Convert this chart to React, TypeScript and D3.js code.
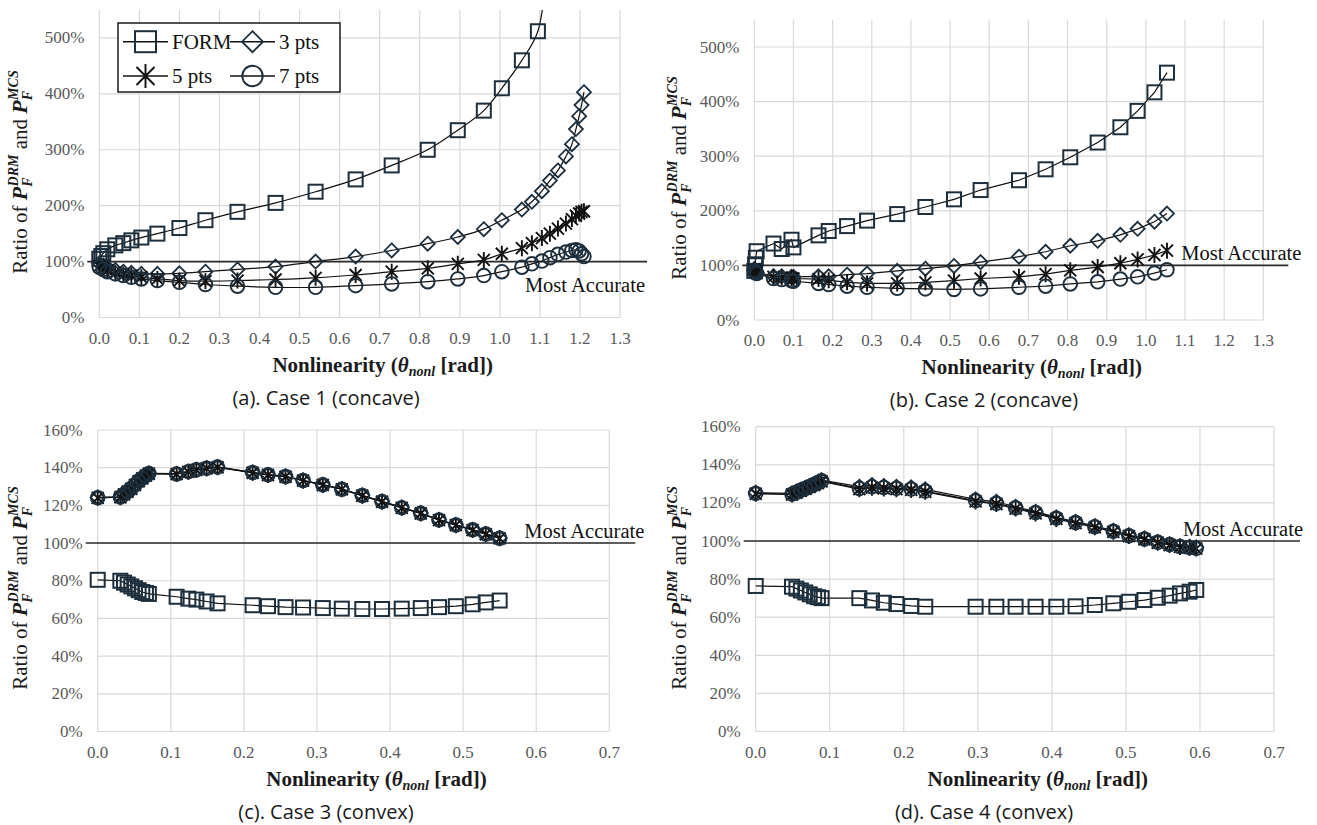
import React, { useEffect, useRef } from 'react';
import * as d3 from 'd3';

// Ratio of P_F(DRM) to P_F(MCS) (1.0 = 100%)

// Case 1 (concave)
const case1FormTheta = [0, 0.005, 0.01, 0.02, 0.04, 0.06, 0.08, 0.105, 0.145, 0.2, 0.265, 0.345, 0.44, 0.54, 0.64, 0.73, 0.82, 0.895, 0.96, 1.005, 1.055, 1.095, 1.12];
const case1Form = [1.05, 1.1, 1.15, 1.22, 1.29, 1.33, 1.38, 1.43, 1.5, 1.6, 1.74, 1.89, 2.05, 2.25, 2.47, 2.72, 3.0, 3.35, 3.7, 4.1, 4.6, 5.12, 6.5];
const case1Theta = [0, 0.01, 0.02, 0.04, 0.06, 0.08, 0.105, 0.145, 0.2, 0.265, 0.345, 0.44, 0.54, 0.64, 0.73, 0.82, 0.895, 0.96, 1.005, 1.055, 1.08, 1.105, 1.125, 1.145, 1.165, 1.18, 1.19, 1.198, 1.204, 1.21];
const case1Pts3 = [0.97, 0.93, 0.9, 0.85, 0.82, 0.8, 0.78, 0.78, 0.79, 0.82, 0.86, 0.91, 1.0, 1.09, 1.2, 1.32, 1.44, 1.58, 1.74, 1.93, 2.07, 2.26, 2.45, 2.63, 2.88, 3.1, 3.37, 3.6, 3.8, 4.03];
const case1Pts5 = [0.92, 0.88, 0.84, 0.8, 0.77, 0.75, 0.72, 0.69, 0.66, 0.65, 0.66, 0.68, 0.71, 0.76, 0.82, 0.88, 0.96, 1.03, 1.14, 1.24, 1.33, 1.42, 1.5, 1.59, 1.68, 1.76, 1.82, 1.86, 1.89, 1.9];
const case1Pts7 = [0.9, 0.86, 0.82, 0.78, 0.75, 0.72, 0.69, 0.66, 0.63, 0.59, 0.56, 0.54, 0.54, 0.57, 0.6, 0.64, 0.69, 0.75, 0.82, 0.9, 0.96, 1.01, 1.07, 1.13, 1.17, 1.2, 1.21, 1.19, 1.14, 1.09];

// Case 2 (concave)
const case2Theta = [0, 0.002, 0.004, 0.006, 0.049, 0.07, 0.095, 0.1, 0.164, 0.19, 0.237, 0.288, 0.365, 0.437, 0.51, 0.578, 0.676, 0.744, 0.807, 0.877, 0.935, 0.979, 1.022, 1.054];
const case2Form = [0.9, 1.02, 1.14, 1.26, 1.4, 1.3, 1.47, 1.33, 1.55, 1.63, 1.72, 1.82, 1.94, 2.07, 2.21, 2.38, 2.56, 2.76, 2.98, 3.25, 3.53, 3.83, 4.17, 4.53];
const case2Pts3 = [0.93, 0.91, 0.89, 0.87, 0.8, 0.8, 0.79, 0.79, 0.8, 0.8, 0.83, 0.85, 0.9, 0.94, 0.99, 1.06, 1.16, 1.25, 1.36, 1.45, 1.56, 1.67, 1.8, 1.95];
const case2Pts5 = [0.92, 0.9, 0.88, 0.86, 0.79, 0.78, 0.77, 0.76, 0.75, 0.73, 0.69, 0.67, 0.67, 0.69, 0.72, 0.76, 0.79, 0.84, 0.91, 0.97, 1.04, 1.11, 1.19, 1.27];
const case2Pts7 = [0.91, 0.89, 0.87, 0.85, 0.76, 0.74, 0.72, 0.71, 0.67, 0.65, 0.62, 0.6, 0.58, 0.57, 0.56, 0.57, 0.6, 0.62, 0.66, 0.7, 0.75, 0.79, 0.86, 0.92];

// Case 3 (convex)
const case3Theta = [0, 0.031, 0.036, 0.041, 0.046, 0.051, 0.056, 0.061, 0.066, 0.07, 0.108, 0.124, 0.135, 0.149, 0.164, 0.212, 0.233, 0.257, 0.281, 0.308, 0.334, 0.362, 0.389, 0.416, 0.442, 0.467, 0.49, 0.513, 0.531, 0.55];
const case3Form = [0.805, 0.8, 0.79, 0.78, 0.77, 0.76, 0.75, 0.74, 0.735, 0.73, 0.715, 0.705, 0.7, 0.69, 0.68, 0.67, 0.665, 0.66, 0.658, 0.655, 0.652, 0.65, 0.65, 0.652, 0.655, 0.66, 0.665, 0.675, 0.685, 0.695];
const case3Pts3 = [1.242, 1.245, 1.26, 1.275, 1.29, 1.31, 1.33, 1.345, 1.36, 1.37, 1.368, 1.38, 1.39, 1.398, 1.404, 1.375, 1.363, 1.354, 1.333, 1.31, 1.287, 1.253, 1.221, 1.189, 1.159, 1.124, 1.097, 1.071, 1.049, 1.027];
const case3Pts5 = [1.24, 1.243, 1.258, 1.273, 1.288, 1.308, 1.328, 1.343, 1.358, 1.368, 1.366, 1.378, 1.388, 1.396, 1.402, 1.373, 1.361, 1.352, 1.331, 1.308, 1.285, 1.251, 1.219, 1.187, 1.157, 1.122, 1.095, 1.069, 1.047, 1.025];
const case3Pts7 = [1.241, 1.244, 1.259, 1.274, 1.289, 1.309, 1.329, 1.344, 1.359, 1.369, 1.367, 1.379, 1.389, 1.397, 1.403, 1.374, 1.362, 1.353, 1.332, 1.309, 1.286, 1.252, 1.22, 1.188, 1.158, 1.123, 1.096, 1.07, 1.048, 1.026];

// Case 4 (convex)
const case4Theta = [0, 0.049, 0.055, 0.061, 0.067, 0.073, 0.079, 0.084, 0.089, 0.14, 0.157, 0.173, 0.19, 0.21, 0.229, 0.297, 0.325, 0.351, 0.378, 0.406, 0.432, 0.458, 0.483, 0.504, 0.525, 0.543, 0.559, 0.573, 0.586, 0.595];
const case4Form = [0.764, 0.76, 0.75, 0.74, 0.73, 0.72, 0.71, 0.705, 0.7, 0.7, 0.688, 0.676, 0.669, 0.659, 0.655, 0.655, 0.655, 0.655, 0.655, 0.655, 0.657, 0.664, 0.673, 0.681, 0.69, 0.702, 0.713, 0.725, 0.734, 0.743];
const case4Pts3 = [1.254, 1.25, 1.26, 1.27, 1.28, 1.29, 1.3, 1.31, 1.32, 1.285, 1.294, 1.289, 1.285, 1.282, 1.271, 1.219, 1.206, 1.18, 1.154, 1.124, 1.101, 1.079, 1.054, 1.031, 1.014, 0.996, 0.984, 0.974, 0.97, 0.967];
const case4Pts5 = [1.248, 1.244, 1.254, 1.264, 1.274, 1.284, 1.294, 1.304, 1.313, 1.272, 1.28, 1.276, 1.272, 1.268, 1.258, 1.208, 1.194, 1.17, 1.145, 1.116, 1.094, 1.072, 1.048, 1.026, 1.009, 0.991, 0.979, 0.969, 0.964, 0.96];
const case4Pts7 = [1.25, 1.246, 1.256, 1.266, 1.276, 1.286, 1.296, 1.306, 1.316, 1.276, 1.285, 1.281, 1.277, 1.273, 1.262, 1.212, 1.198, 1.174, 1.149, 1.12, 1.097, 1.075, 1.051, 1.028, 1.011, 0.993, 0.981, 0.971, 0.966, 0.962];

// Axes and labels
const xTicksConcave = [0, 0.1, 0.2, 0.3, 0.4, 0.5, 0.6, 0.7, 0.8, 0.9, 1.0, 1.1, 1.2, 1.3];
const yTicksConcave = [0, 1, 2, 3, 4, 5];
const xTicksConvex = [0, 0.1, 0.2, 0.3, 0.4, 0.5, 0.6, 0.7];
const yTicksConvex = [0, 0.2, 0.4, 0.6, 0.8, 1.0, 1.2, 1.4, 1.6];
const captions = ['(a). Case 1 (concave)', '(b). Case 2 (concave)', '(c). Case 3 (convex)', '(d). Case 4 (convex)'];
const legendLabels = ['FORM', '3 pts', '5 pts', '7 pts'];
const markerKinds = ['square', 'diamond', 'star', 'circle'];
const referenceLabel = 'Most Accurate';

const NAVY = '#1d2e3c';
const GRID = '#d9d9d9';
const SERIF = 'Liberation Serif, Times New Roman, serif';
const SANS = 'Open Sans, Noto Sans, sans-serif';

const App = () => {
  const svgRef = useRef(null);

  useEffect(() => {
    if (!svgRef.current) return;
    const svg = d3.select(svgRef.current);
    svg.selectAll('*').remove();

    const panels = [
      {
        id: 'a', left: 99.3, right: 620, top: 10, bottom: 317.5, xMax: 1.3, yMax: 5.5,
        xTicks: xTicksConcave, yTicks: yTicksConcave, smooth: true,
        caption: captions[0], captionX: 326, titleY: 172, titleX: 27,
        refLineRight: 27, refTextRight: 25, refTextDy: 30,
        series: [
          { kind: 'square', theta: case1FormTheta, values: case1Form },
          { kind: 'diamond', theta: case1Theta, values: case1Pts3 },
          { kind: 'star', theta: case1Theta, values: case1Pts5 },
          { kind: 'circle', theta: case1Theta, values: case1Pts7 },
        ],
      },
      {
        id: 'b', left: 754.3, right: 1263.3, top: 19.7, bottom: 320, xMax: 1.3, yMax: 5.5,
        xTicks: xTicksConcave, yTicks: yTicksConcave, smooth: false,
        caption: captions[1], captionX: 984, titleY: 178, titleX: 686,
        refLineRight: 25, refTextRight: 38, refTextDy: -5,
        series: [
          { kind: 'square', theta: case2Theta, values: case2Form },
          { kind: 'diamond', theta: case2Theta, values: case2Pts3 },
          { kind: 'star', theta: case2Theta, values: case2Pts5 },
          { kind: 'circle', theta: case2Theta, values: case2Pts7 },
        ],
      },
      {
        id: 'c', left: 97.7, right: 609.3, top: 430, bottom: 731.5, xMax: 0.7, yMax: 1.6,
        xTicks: xTicksConvex, yTicks: yTicksConvex, smooth: false,
        caption: captions[2], captionX: 326, titleY: 588, titleX: 27,
        refLineRight: 26, refTextRight: 35, refTextDy: -5,
        series: [
          { kind: 'square', theta: case3Theta, values: case3Form },
          { kind: 'diamond', theta: case3Theta, values: case3Pts3 },
          { kind: 'star', theta: case3Theta, values: case3Pts5 },
          { kind: 'circle', theta: case3Theta, values: case3Pts7 },
        ],
      },
      {
        id: 'd', left: 755.7, right: 1274, top: 426.7, bottom: 731.5, xMax: 0.7, yMax: 1.6,
        xTicks: xTicksConvex, yTicks: yTicksConvex, smooth: false,
        caption: captions[3], captionX: 984, titleY: 588, titleX: 686,
        refLineRight: 26, refTextRight: 29, refTextDy: -5,
        series: [
          { kind: 'square', theta: case4Theta, values: case4Form },
          { kind: 'diamond', theta: case4Theta, values: case4Pts3 },
          { kind: 'star', theta: case4Theta, values: case4Pts5 },
          { kind: 'circle', theta: case4Theta, values: case4Pts7 },
        ],
      },
    ];

    panels.forEach(p => drawPanel(svg, p));
    drawLegend(svg);
  }, []);

  // One marker, centred on (cx, cy); k scales it (legend markers are bigger)
  const drawMarker = (g: any, kind: string, cx: number, cy: number, k: number) => {
    if (kind === 'square') {
      const s = 7 * k;
      g.append('rect')
        .attr('x', cx - s).attr('y', cy - s)
        .attr('width', 2 * s).attr('height', 2 * s)
        .attr('fill', 'none').attr('stroke', NAVY).attr('stroke-width', 2);
    } else if (kind === 'diamond') {
      const s = 7 * k;
      g.append('path')
        .attr('d', `M${cx},${cy - s}L${cx + s},${cy}L${cx},${cy + s}L${cx - s},${cy}Z`)
        .attr('fill', 'none').attr('stroke', NAVY).attr('stroke-width', 1.8);
    } else if (kind === 'circle') {
      g.append('circle')
        .attr('cx', cx).attr('cy', cy).attr('r', 6.8 * k)
        .attr('fill', 'none').attr('stroke', NAVY).attr('stroke-width', 1.9);
    } else {
      const s = 8 * k;
      const d = 6 * k;
      g.append('path')
        .attr('d', `M${cx},${cy - s}L${cx},${cy + s}M${cx - d},${cy - d}L${cx + d},${cy + d}M${cx - d},${cy + d}L${cx + d},${cy - d}`)
        .attr('fill', 'none').attr('stroke', '#111').attr('stroke-width', 1.9);
    }
  };

  const drawPanel = (svg: any, p: any) => {
    const x = d3.scaleLinear().domain([0, p.xMax]).range([p.left, p.right]);
    const y = d3.scaleLinear().domain([0, p.yMax]).range([p.bottom, p.top]);
    const g = svg.append('g');

    // Gridlines
    g.selectAll('.vgrid')
      .data(p.xTicks)
      .enter()
      .append('line')
      .attr('x1', (d: number) => x(d)).attr('x2', (d: number) => x(d))
      .attr('y1', p.top).attr('y2', p.bottom)
      .attr('stroke', GRID).attr('stroke-width', 1.2);

    g.selectAll('.hgrid')
      .data(p.yTicks)
      .enter()
      .append('line')
      .attr('x1', p.left).attr('x2', p.right)
      .attr('y1', (d: number) => y(d)).attr('y2', (d: number) => y(d))
      .attr('stroke', GRID).attr('stroke-width', 1.2);

    // Tick labels
    g.selectAll('.xlab')
      .data(p.xTicks)
      .enter()
      .append('text')
      .attr('x', (d: number) => x(d))
      .attr('y', p.bottom + 26)
      .attr('text-anchor', 'middle')
      .attr('font-family', SERIF).attr('font-size', 17).attr('fill', '#595959')
      .text((d: number) => d3.format('.1f')(d));

    g.selectAll('.ylab')
      .data(p.yTicks)
      .enter()
      .append('text')
      .attr('x', p.left - 15)
      .attr('y', (d: number) => y(d) + 5.5)
      .attr('text-anchor', 'end')
      .attr('font-family', SERIF).attr('font-size', 17).attr('fill', '#595959')
      .text((d: number) => d3.format('.0%')(d));

    // 100% reference line
    g.append('line')
      .attr('x1', p.left - 12).attr('x2', p.right + p.refLineRight)
      .attr('y1', y(1)).attr('y2', y(1))
      .attr('stroke', '#2a2a2a').attr('stroke-width', 1.6);

    g.append('text')
      .attr('x', p.right + p.refTextRight)
      .attr('y', y(1) + p.refTextDy)
      .attr('text-anchor', 'end')
      .attr('font-family', SERIF).attr('font-size', 20.5).attr('fill', '#111')
      .text(referenceLabel);

    // Series, clipped at the top of the plot area
    const clipId = `clip-${p.id}`;
    svg.append('clipPath').attr('id', clipId)
      .append('rect')
      .attr('x', p.left - 25).attr('y', p.top)
      .attr('width', p.right - p.left + 50).attr('height', p.bottom - p.top + 25);

    const sg = g.append('g').attr('clip-path', `url(#${clipId})`);
    const line = d3.line().curve(p.smooth ? d3.curveCatmullRom.alpha(0.5) : d3.curveLinear);

    p.series.forEach((s: any) => {
      const pts = s.theta.map((t: number, i: number) => [x(t), y(s.values[i])]);
      sg.append('path')
        .attr('d', line(pts))
        .attr('fill', 'none').attr('stroke', '#111').attr('stroke-width', 1.2);
      pts.forEach((pt: number[]) => drawMarker(sg, s.kind, pt[0], pt[1], 1));
    });

    // Y axis title
    const yt = g.append('text')
      .attr('transform', `translate(${p.titleX},${p.titleY}) rotate(-90)`)
      .attr('text-anchor', 'middle')
      .attr('font-family', SERIF).attr('font-size', 21).attr('fill', '#1a1a1a');
    const math = (sel: any, txt: string, size: number) =>
      sel.append('tspan').text(txt).attr('font-weight', 'bold').attr('font-style', 'italic').attr('font-size', size);
    yt.append('tspan').text('Ratio of ');
    math(yt, 'P', 22);
    math(yt, 'F', 14).attr('dy', 5);
    math(yt, 'DRM', 14).attr('dx', -9).attr('dy', -14);
    yt.append('tspan').text(' and ').attr('dy', 9);
    math(yt, 'P', 22);
    math(yt, 'F', 14).attr('dy', 5);
    math(yt, 'MCS', 14).attr('dx', -9).attr('dy', -14);

    // X axis title
    const xt = g.append('text')
      .attr('x', (p.left + p.right) / 2 + 23)
      .attr('y', p.bottom + 54)
      .attr('text-anchor', 'middle')
      .attr('font-family', SERIF).attr('font-size', 21).attr('fill', '#1a1a1a');
    xt.append('tspan').text('Nonlinearity  (').attr('font-weight', 'bold');
    math(xt, 'θ', 21);
    math(xt, 'nonl', 14).attr('dy', 4);
    xt.append('tspan').text(' [rad])').attr('dy', -4).attr('font-weight', 'bold');

    // Caption
    g.append('text')
      .attr('x', p.captionX)
      .attr('y', p.bottom + 87)
      .attr('text-anchor', 'middle')
      .attr('font-family', SANS).attr('font-size', 20).attr('fill', '#1a1a1a')
      .text(p.caption);
  };

  const drawLegend = (svg: any) => {
    const g = svg.append('g');
    g.append('rect')
      .attr('x', 118).attr('y', 23).attr('width', 222).attr('height', 69)
      .attr('fill', '#fff').attr('stroke', '#1a1a1a').attr('stroke-width', 1.5);

    const slots = [
      { x: 123, y: 41.7 }, { x: 230, y: 41.7 },
      { x: 123, y: 76 }, { x: 230, y: 76 },
    ];
    legendLabels.forEach((label, i) => {
      const s = slots[i];
      g.append('line')
        .attr('x1', s.x).attr('x2', s.x + 45)
        .attr('y1', s.y).attr('y2', s.y)
        .attr('stroke', '#111').attr('stroke-width', 1.6);
      drawMarker(g, markerKinds[i], s.x + 22.5, s.y, 1.5);
      g.append('text')
        .attr('x', s.x + 49).attr('y', s.y + 7)
        .attr('font-family', SERIF).attr('font-size', 21).attr('fill', '#111')
        .text(label);
    });
  };

  return (
    <svg
      ref={svgRef}
      width={1317}
      height={825}
      style={{ position: 'absolute', left: 0, top: 0, background: '#fff' }}
    />
  );
};

export default App;
